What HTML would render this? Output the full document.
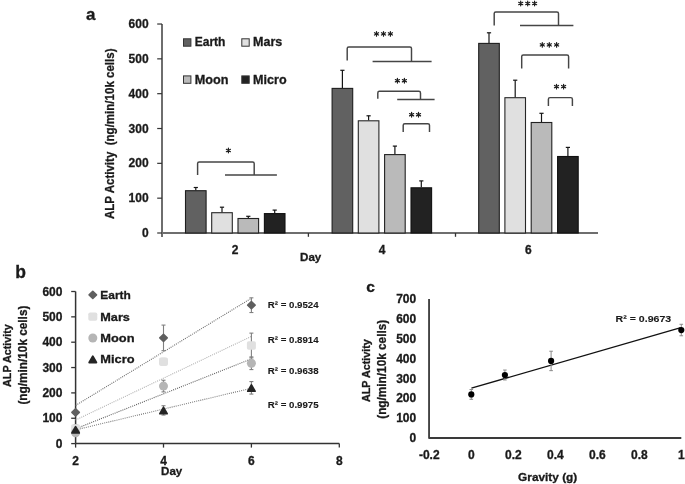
<!DOCTYPE html>
<html><head><meta charset="utf-8"><style>
html,body{margin:0;padding:0;background:#fff;overflow:hidden;}
svg{display:block;filter:grayscale(1);font-family:"Liberation Sans", sans-serif;}
</style></head><body>
<svg width="685" height="484" viewBox="0 0 685 484">
<rect width="685" height="484" fill="#fff"/>
<text x="86.10" y="19.60" font-size="17.0" font-weight="bold" fill="#1a1a1a" text-anchor="start" stroke="#1a1a1a" stroke-width="0.3">a</text>
<line x1="162.00" y1="24.00" x2="162.00" y2="237.00" stroke="#6e6e6e" stroke-width="2"/>
<line x1="157.20" y1="233.00" x2="162.00" y2="233.00" stroke="#333333" stroke-width="1.2"/>
<text x="148.60" y="237.10" font-size="12.0" font-weight="bold" fill="#1a1a1a" text-anchor="end" stroke="#1a1a1a" stroke-width="0.3" textLength="6.67" lengthAdjust="spacingAndGlyphs">0</text>
<line x1="157.20" y1="198.17" x2="162.00" y2="198.17" stroke="#333333" stroke-width="1.2"/>
<text x="148.60" y="202.27" font-size="12.0" font-weight="bold" fill="#1a1a1a" text-anchor="end" stroke="#1a1a1a" stroke-width="0.3" textLength="20.01" lengthAdjust="spacingAndGlyphs">100</text>
<line x1="157.20" y1="163.34" x2="162.00" y2="163.34" stroke="#333333" stroke-width="1.2"/>
<text x="148.60" y="167.44" font-size="12.0" font-weight="bold" fill="#1a1a1a" text-anchor="end" stroke="#1a1a1a" stroke-width="0.3" textLength="20.01" lengthAdjust="spacingAndGlyphs">200</text>
<line x1="157.20" y1="128.51" x2="162.00" y2="128.51" stroke="#333333" stroke-width="1.2"/>
<text x="148.60" y="132.61" font-size="12.0" font-weight="bold" fill="#1a1a1a" text-anchor="end" stroke="#1a1a1a" stroke-width="0.3" textLength="20.01" lengthAdjust="spacingAndGlyphs">300</text>
<line x1="157.20" y1="93.68" x2="162.00" y2="93.68" stroke="#333333" stroke-width="1.2"/>
<text x="148.60" y="97.78" font-size="12.0" font-weight="bold" fill="#1a1a1a" text-anchor="end" stroke="#1a1a1a" stroke-width="0.3" textLength="20.01" lengthAdjust="spacingAndGlyphs">400</text>
<line x1="157.20" y1="58.85" x2="162.00" y2="58.85" stroke="#333333" stroke-width="1.2"/>
<text x="148.60" y="62.95" font-size="12.0" font-weight="bold" fill="#1a1a1a" text-anchor="end" stroke="#1a1a1a" stroke-width="0.3" textLength="20.01" lengthAdjust="spacingAndGlyphs">500</text>
<line x1="157.20" y1="24.02" x2="162.00" y2="24.02" stroke="#333333" stroke-width="1.2"/>
<text x="148.60" y="28.12" font-size="12.0" font-weight="bold" fill="#1a1a1a" text-anchor="end" stroke="#1a1a1a" stroke-width="0.3" textLength="20.01" lengthAdjust="spacingAndGlyphs">600</text>
<line x1="162.00" y1="233.00" x2="598.00" y2="233.00" stroke="#6e6e6e" stroke-width="2"/>
<line x1="308.40" y1="233.00" x2="308.40" y2="236.80" stroke="#333333" stroke-width="1.3"/>
<line x1="455.50" y1="233.00" x2="455.50" y2="236.80" stroke="#333333" stroke-width="1.3"/>
<text x="235.20" y="254.20" font-size="12" font-weight="bold" fill="#1a1a1a" text-anchor="middle" stroke="#1a1a1a" stroke-width="0.3">2</text>
<text x="382.00" y="254.20" font-size="12" font-weight="bold" fill="#1a1a1a" text-anchor="middle" stroke="#1a1a1a" stroke-width="0.3">4</text>
<text x="528.30" y="254.20" font-size="12" font-weight="bold" fill="#1a1a1a" text-anchor="middle" stroke="#1a1a1a" stroke-width="0.3">6</text>
<text x="300.00" y="261.30" font-size="11.5" font-weight="bold" fill="#1a1a1a" text-anchor="start" stroke="#1a1a1a" stroke-width="0.3" textLength="21.30" lengthAdjust="spacingAndGlyphs">Day</text>
<text x="114.00" y="219.00" font-size="13.0" font-weight="bold" fill="#1a1a1a" text-anchor="start" stroke="#1a1a1a" stroke-width="0.3" textLength="170.50" lengthAdjust="spacingAndGlyphs" transform="rotate(-90 114.00 219.00)">ALP Activity&#160;&#160;(ng/min/10k cells)</text>
<rect x="185.50" y="190.70" width="20.60" height="42.30" fill="#616161" stroke="#1e1e1e" stroke-width="1.1"/>
<line x1="195.80" y1="190.20" x2="195.80" y2="187.50" stroke="#151515" stroke-width="1.2"/>
<line x1="193.70" y1="187.50" x2="197.90" y2="187.50" stroke="#151515" stroke-width="1.2"/>
<rect x="211.70" y="212.70" width="20.60" height="20.30" fill="#e0e0e0" stroke="#262626" stroke-width="1.1"/>
<line x1="222.00" y1="212.20" x2="222.00" y2="207.20" stroke="#151515" stroke-width="1.2"/>
<line x1="219.90" y1="207.20" x2="224.10" y2="207.20" stroke="#151515" stroke-width="1.2"/>
<rect x="238.00" y="218.50" width="20.60" height="14.50" fill="#bababa" stroke="#222222" stroke-width="1.1"/>
<line x1="248.30" y1="218.00" x2="248.30" y2="216.30" stroke="#151515" stroke-width="1.2"/>
<line x1="246.20" y1="216.30" x2="250.40" y2="216.30" stroke="#151515" stroke-width="1.2"/>
<rect x="264.40" y="213.60" width="20.60" height="19.40" fill="#222222" stroke="#111111" stroke-width="1.1"/>
<line x1="274.70" y1="213.10" x2="274.70" y2="210.10" stroke="#151515" stroke-width="1.2"/>
<line x1="272.60" y1="210.10" x2="276.80" y2="210.10" stroke="#151515" stroke-width="1.2"/>
<rect x="332.10" y="88.40" width="20.60" height="144.60" fill="#616161" stroke="#1e1e1e" stroke-width="1.1"/>
<line x1="342.40" y1="87.90" x2="342.40" y2="70.30" stroke="#151515" stroke-width="1.2"/>
<line x1="340.30" y1="70.30" x2="344.50" y2="70.30" stroke="#151515" stroke-width="1.2"/>
<rect x="358.30" y="120.80" width="20.60" height="112.20" fill="#e0e0e0" stroke="#262626" stroke-width="1.1"/>
<line x1="368.60" y1="120.30" x2="368.60" y2="115.80" stroke="#151515" stroke-width="1.2"/>
<line x1="366.50" y1="115.80" x2="370.70" y2="115.80" stroke="#151515" stroke-width="1.2"/>
<rect x="384.60" y="154.60" width="20.60" height="78.40" fill="#bababa" stroke="#222222" stroke-width="1.1"/>
<line x1="394.90" y1="154.10" x2="394.90" y2="146.10" stroke="#151515" stroke-width="1.2"/>
<line x1="392.80" y1="146.10" x2="397.00" y2="146.10" stroke="#151515" stroke-width="1.2"/>
<rect x="411.00" y="187.80" width="20.60" height="45.20" fill="#222222" stroke="#111111" stroke-width="1.1"/>
<line x1="421.30" y1="187.30" x2="421.30" y2="180.90" stroke="#151515" stroke-width="1.2"/>
<line x1="419.20" y1="180.90" x2="423.40" y2="180.90" stroke="#151515" stroke-width="1.2"/>
<rect x="478.70" y="43.40" width="20.60" height="189.60" fill="#616161" stroke="#1e1e1e" stroke-width="1.1"/>
<line x1="489.00" y1="42.90" x2="489.00" y2="32.80" stroke="#151515" stroke-width="1.2"/>
<line x1="486.90" y1="32.80" x2="491.10" y2="32.80" stroke="#151515" stroke-width="1.2"/>
<rect x="504.90" y="97.70" width="20.60" height="135.30" fill="#e0e0e0" stroke="#262626" stroke-width="1.1"/>
<line x1="515.20" y1="97.20" x2="515.20" y2="80.20" stroke="#151515" stroke-width="1.2"/>
<line x1="513.10" y1="80.20" x2="517.30" y2="80.20" stroke="#151515" stroke-width="1.2"/>
<rect x="531.20" y="122.50" width="20.60" height="110.50" fill="#bababa" stroke="#222222" stroke-width="1.1"/>
<line x1="541.50" y1="122.00" x2="541.50" y2="113.30" stroke="#151515" stroke-width="1.2"/>
<line x1="539.40" y1="113.30" x2="543.60" y2="113.30" stroke="#151515" stroke-width="1.2"/>
<rect x="557.60" y="156.50" width="20.60" height="76.50" fill="#222222" stroke="#111111" stroke-width="1.1"/>
<line x1="567.90" y1="156.00" x2="567.90" y2="147.40" stroke="#151515" stroke-width="1.2"/>
<line x1="565.80" y1="147.40" x2="570.00" y2="147.40" stroke="#151515" stroke-width="1.2"/>
<rect x="183.50" y="38.80" width="7.40" height="7.40" fill="#616161" stroke="#333" stroke-width="1"/>
<text x="194.70" y="46.40" font-size="12.2" font-weight="bold" fill="#1a1a1a" text-anchor="start" stroke="#1a1a1a" stroke-width="0.3" textLength="30.70" lengthAdjust="spacingAndGlyphs">Earth</text>
<rect x="241.80" y="38.80" width="7.40" height="7.40" fill="#e0e0e0" stroke="#333" stroke-width="1"/>
<text x="253.10" y="46.40" font-size="12.2" font-weight="bold" fill="#1a1a1a" text-anchor="start" stroke="#1a1a1a" stroke-width="0.3" textLength="29.20" lengthAdjust="spacingAndGlyphs">Mars</text>
<rect x="183.50" y="75.90" width="7.40" height="7.40" fill="#bababa" stroke="#333" stroke-width="1"/>
<text x="194.70" y="83.50" font-size="12.2" font-weight="bold" fill="#1a1a1a" text-anchor="start" stroke="#1a1a1a" stroke-width="0.3" textLength="33.70" lengthAdjust="spacingAndGlyphs">Moon</text>
<rect x="241.80" y="75.90" width="7.40" height="7.40" fill="#222222" stroke="#333" stroke-width="1"/>
<text x="253.10" y="83.50" font-size="12.2" font-weight="bold" fill="#1a1a1a" text-anchor="start" stroke="#1a1a1a" stroke-width="0.3" textLength="33.50" lengthAdjust="spacingAndGlyphs">Micro</text>
<path d="M197.60,175.00 L197.60,163.50 Q197.60,161.90 199.20,161.90 L252.60,161.90 Q254.20,161.90 254.20,163.50 L254.20,175.00" fill="none" stroke="#454545" stroke-width="1.45"/>
<line x1="225.00" y1="175.00" x2="276.90" y2="175.00" stroke="#454545" stroke-width="1.45"/>
<path d="M228.40,148.15L228.40,152.85M226.36,149.32L230.44,151.68M226.36,151.68L230.44,149.32" stroke="#1e1e1e" stroke-width="1.2" stroke-linecap="round" fill="none"/>
<path d="M347.20,60.60 L347.20,48.50 Q347.20,46.90 348.80,46.90 L409.90,46.90 Q411.50,46.90 411.50,48.50 L411.50,61.50" fill="none" stroke="#454545" stroke-width="1.45"/>
<line x1="372.60" y1="61.50" x2="431.60" y2="61.50" stroke="#454545" stroke-width="1.45"/>
<path d="M376.50,31.55L376.50,36.25M374.46,32.73L378.54,35.07M374.46,35.07L378.54,32.73" stroke="#1e1e1e" stroke-width="1.2" stroke-linecap="round" fill="none"/>
<path d="M383.50,31.55L383.50,36.25M381.46,32.73L385.54,35.07M381.46,35.07L385.54,32.73" stroke="#1e1e1e" stroke-width="1.2" stroke-linecap="round" fill="none"/>
<path d="M390.40,31.55L390.40,36.25M388.36,32.73L392.44,35.07M388.36,35.07L392.44,32.73" stroke="#1e1e1e" stroke-width="1.2" stroke-linecap="round" fill="none"/>
<path d="M377.80,98.80 L377.80,92.90 Q377.80,91.30 379.40,91.30 L418.90,91.30 Q420.50,91.30 420.50,92.90 L420.50,99.50" fill="none" stroke="#454545" stroke-width="1.45"/>
<line x1="397.20" y1="99.50" x2="434.60" y2="99.50" stroke="#454545" stroke-width="1.45"/>
<path d="M397.40,78.35L397.40,83.05M395.36,79.53L399.44,81.88M395.36,81.88L399.44,79.53" stroke="#1e1e1e" stroke-width="1.2" stroke-linecap="round" fill="none"/>
<path d="M404.40,78.35L404.40,83.05M402.36,79.53L406.44,81.88M402.36,81.88L406.44,79.53" stroke="#1e1e1e" stroke-width="1.2" stroke-linecap="round" fill="none"/>
<path d="M403.20,131.90 L403.20,125.30 Q403.20,123.70 404.80,123.70 L427.90,123.70 Q429.50,123.70 429.50,125.30 L429.50,131.90" fill="none" stroke="#454545" stroke-width="1.45"/>
<path d="M411.60,112.35L411.60,117.05M409.56,113.53L413.64,115.88M409.56,115.88L413.64,113.53" stroke="#1e1e1e" stroke-width="1.2" stroke-linecap="round" fill="none"/>
<path d="M418.50,112.35L418.50,117.05M416.46,113.53L420.54,115.88M416.46,115.88L420.54,113.53" stroke="#1e1e1e" stroke-width="1.2" stroke-linecap="round" fill="none"/>
<path d="M494.20,25.40 L494.20,13.50 Q494.20,11.90 495.80,11.90 L556.90,11.90 Q558.50,11.90 558.50,13.50 L558.50,25.50" fill="none" stroke="#454545" stroke-width="1.45"/>
<line x1="520.00" y1="25.50" x2="573.40" y2="25.50" stroke="#454545" stroke-width="1.45"/>
<path d="M520.70,1.15L520.70,5.85M518.66,2.33L522.74,4.67M518.66,4.67L522.74,2.33" stroke="#1e1e1e" stroke-width="1.2" stroke-linecap="round" fill="none"/>
<path d="M527.70,1.15L527.70,5.85M525.66,2.33L529.74,4.67M525.66,4.67L529.74,2.33" stroke="#1e1e1e" stroke-width="1.2" stroke-linecap="round" fill="none"/>
<path d="M534.60,1.15L534.60,5.85M532.56,2.33L536.64,4.67M532.56,4.67L536.64,2.33" stroke="#1e1e1e" stroke-width="1.2" stroke-linecap="round" fill="none"/>
<path d="M521.70,68.50 L521.70,56.50 Q521.70,54.90 523.30,54.90 L567.00,54.90 Q568.60,54.90 568.60,56.50 L568.60,68.50" fill="none" stroke="#454545" stroke-width="1.45"/>
<path d="M542.30,42.55L542.30,47.25M540.26,43.73L544.34,46.07M540.26,46.07L544.34,43.73" stroke="#1e1e1e" stroke-width="1.2" stroke-linecap="round" fill="none"/>
<path d="M549.30,42.55L549.30,47.25M547.26,43.73L551.34,46.07M547.26,46.07L551.34,43.73" stroke="#1e1e1e" stroke-width="1.2" stroke-linecap="round" fill="none"/>
<path d="M556.60,42.55L556.60,47.25M554.56,43.73L558.64,46.07M554.56,46.07L558.64,43.73" stroke="#1e1e1e" stroke-width="1.2" stroke-linecap="round" fill="none"/>
<path d="M548.40,106.10 L548.40,99.20 Q548.40,97.60 550.00,97.60 L570.80,97.60 Q572.40,97.60 572.40,99.20 L572.40,106.10" fill="none" stroke="#454545" stroke-width="1.45"/>
<path d="M556.50,84.25L556.50,88.95M554.46,85.42L558.54,87.77M554.46,87.77L558.54,85.42" stroke="#1e1e1e" stroke-width="1.2" stroke-linecap="round" fill="none"/>
<path d="M563.60,84.25L563.60,88.95M561.56,85.42L565.64,87.77M561.56,87.77L565.64,85.42" stroke="#1e1e1e" stroke-width="1.2" stroke-linecap="round" fill="none"/>
<text x="15.20" y="278.20" font-size="17.5" font-weight="bold" fill="#1a1a1a" text-anchor="start" stroke="#1a1a1a" stroke-width="0.3">b</text>
<line x1="75.60" y1="291.50" x2="75.60" y2="443.60" stroke="#333333" stroke-width="1.5"/>
<line x1="71.20" y1="443.60" x2="75.60" y2="443.60" stroke="#333333" stroke-width="1.3"/>
<text x="62.40" y="447.60" font-size="12.0" font-weight="bold" fill="#1a1a1a" text-anchor="end" stroke="#1a1a1a" stroke-width="0.3" textLength="6.67" lengthAdjust="spacingAndGlyphs">0</text>
<line x1="71.20" y1="418.25" x2="75.60" y2="418.25" stroke="#333333" stroke-width="1.3"/>
<text x="62.40" y="422.25" font-size="12.0" font-weight="bold" fill="#1a1a1a" text-anchor="end" stroke="#1a1a1a" stroke-width="0.3" textLength="20.01" lengthAdjust="spacingAndGlyphs">100</text>
<line x1="71.20" y1="392.90" x2="75.60" y2="392.90" stroke="#333333" stroke-width="1.3"/>
<text x="62.40" y="396.90" font-size="12.0" font-weight="bold" fill="#1a1a1a" text-anchor="end" stroke="#1a1a1a" stroke-width="0.3" textLength="20.01" lengthAdjust="spacingAndGlyphs">200</text>
<line x1="71.20" y1="367.55" x2="75.60" y2="367.55" stroke="#333333" stroke-width="1.3"/>
<text x="62.40" y="371.55" font-size="12.0" font-weight="bold" fill="#1a1a1a" text-anchor="end" stroke="#1a1a1a" stroke-width="0.3" textLength="20.01" lengthAdjust="spacingAndGlyphs">300</text>
<line x1="71.20" y1="342.20" x2="75.60" y2="342.20" stroke="#333333" stroke-width="1.3"/>
<text x="62.40" y="346.20" font-size="12.0" font-weight="bold" fill="#1a1a1a" text-anchor="end" stroke="#1a1a1a" stroke-width="0.3" textLength="20.01" lengthAdjust="spacingAndGlyphs">400</text>
<line x1="71.20" y1="316.85" x2="75.60" y2="316.85" stroke="#333333" stroke-width="1.3"/>
<text x="62.40" y="320.85" font-size="12.0" font-weight="bold" fill="#1a1a1a" text-anchor="end" stroke="#1a1a1a" stroke-width="0.3" textLength="20.01" lengthAdjust="spacingAndGlyphs">500</text>
<line x1="71.20" y1="291.50" x2="75.60" y2="291.50" stroke="#333333" stroke-width="1.3"/>
<text x="62.40" y="295.50" font-size="12.0" font-weight="bold" fill="#1a1a1a" text-anchor="end" stroke="#1a1a1a" stroke-width="0.3" textLength="20.01" lengthAdjust="spacingAndGlyphs">600</text>
<line x1="75.60" y1="443.60" x2="339.30" y2="443.60" stroke="#333333" stroke-width="1.5"/>
<line x1="75.60" y1="443.60" x2="75.60" y2="447.60" stroke="#333333" stroke-width="1.3"/>
<text x="75.60" y="464.70" font-size="12" font-weight="bold" fill="#1a1a1a" text-anchor="middle" stroke="#1a1a1a" stroke-width="0.3">2</text>
<line x1="163.50" y1="443.60" x2="163.50" y2="447.60" stroke="#333333" stroke-width="1.3"/>
<text x="163.50" y="464.70" font-size="12" font-weight="bold" fill="#1a1a1a" text-anchor="middle" stroke="#1a1a1a" stroke-width="0.3">4</text>
<line x1="251.40" y1="443.60" x2="251.40" y2="447.60" stroke="#333333" stroke-width="1.3"/>
<text x="251.40" y="464.70" font-size="12" font-weight="bold" fill="#1a1a1a" text-anchor="middle" stroke="#1a1a1a" stroke-width="0.3">6</text>
<line x1="339.30" y1="443.60" x2="339.30" y2="447.60" stroke="#333333" stroke-width="1.3"/>
<text x="339.30" y="464.70" font-size="12" font-weight="bold" fill="#1a1a1a" text-anchor="middle" stroke="#1a1a1a" stroke-width="0.3">8</text>
<text x="161.10" y="474.50" font-size="11.5" font-weight="bold" fill="#1a1a1a" text-anchor="start" stroke="#1a1a1a" stroke-width="0.3" textLength="21.20" lengthAdjust="spacingAndGlyphs">Day</text>
<text x="10.60" y="386.90" font-size="11.2" font-weight="bold" fill="#1a1a1a" text-anchor="start" stroke="#1a1a1a" stroke-width="0.3" textLength="62.60" lengthAdjust="spacingAndGlyphs" transform="rotate(-90 10.60 386.90)">ALP Activity</text>
<text x="26.60" y="404.60" font-size="12.2" font-weight="bold" fill="#1a1a1a" text-anchor="start" stroke="#1a1a1a" stroke-width="0.3" textLength="99.00" lengthAdjust="spacingAndGlyphs" transform="rotate(-90 26.60 404.60)">(ng/min/10k cells)</text>
<line x1="75.60" y1="420.02" x2="251.40" y2="336.37" stroke="#b0b0b0" stroke-width="1.1" stroke-dasharray="1 1.1"/>
<line x1="75.60" y1="428.81" x2="251.40" y2="358.85" stroke="#5e5e5e" stroke-width="1.1" stroke-dasharray="1 1.1"/>
<line x1="75.60" y1="429.83" x2="251.40" y2="388.25" stroke="#7c7c7c" stroke-width="1.1" stroke-dasharray="1 1.1"/>
<line x1="75.60" y1="405.45" x2="251.40" y2="298.22" stroke="#6c6c6c" stroke-width="1.1" stroke-dasharray="1 1.1"/>
<line x1="75.60" y1="410.44" x2="75.60" y2="414.40" stroke="#808080" stroke-width="1.1"/>
<line x1="73.60" y1="410.44" x2="77.60" y2="410.44" stroke="#808080" stroke-width="1.1"/>
<line x1="73.60" y1="414.40" x2="77.60" y2="414.40" stroke="#808080" stroke-width="1.1"/>
<line x1="163.50" y1="325.09" x2="163.50" y2="350.69" stroke="#808080" stroke-width="1.1"/>
<line x1="161.50" y1="325.09" x2="165.50" y2="325.09" stroke="#808080" stroke-width="1.1"/>
<line x1="161.50" y1="350.69" x2="165.50" y2="350.69" stroke="#808080" stroke-width="1.1"/>
<line x1="251.40" y1="297.84" x2="251.40" y2="312.54" stroke="#808080" stroke-width="1.1"/>
<line x1="249.40" y1="297.84" x2="253.40" y2="297.84" stroke="#808080" stroke-width="1.1"/>
<line x1="249.40" y1="312.54" x2="253.40" y2="312.54" stroke="#808080" stroke-width="1.1"/>
<line x1="75.60" y1="424.74" x2="75.60" y2="432.04" stroke="#808080" stroke-width="1.1"/>
<line x1="73.60" y1="424.74" x2="77.60" y2="424.74" stroke="#808080" stroke-width="1.1"/>
<line x1="73.60" y1="432.04" x2="77.60" y2="432.04" stroke="#808080" stroke-width="1.1"/>
<line x1="163.50" y1="358.45" x2="163.50" y2="364.99" stroke="#808080" stroke-width="1.1"/>
<line x1="161.50" y1="358.45" x2="165.50" y2="358.45" stroke="#808080" stroke-width="1.1"/>
<line x1="161.50" y1="364.99" x2="165.50" y2="364.99" stroke="#808080" stroke-width="1.1"/>
<line x1="251.40" y1="333.12" x2="251.40" y2="357.87" stroke="#808080" stroke-width="1.1"/>
<line x1="249.40" y1="333.12" x2="253.40" y2="333.12" stroke="#808080" stroke-width="1.1"/>
<line x1="249.40" y1="357.87" x2="253.40" y2="357.87" stroke="#808080" stroke-width="1.1"/>
<line x1="75.60" y1="431.46" x2="75.60" y2="433.94" stroke="#808080" stroke-width="1.1"/>
<line x1="73.60" y1="431.46" x2="77.60" y2="431.46" stroke="#808080" stroke-width="1.1"/>
<line x1="73.60" y1="433.94" x2="77.60" y2="433.94" stroke="#808080" stroke-width="1.1"/>
<line x1="163.50" y1="380.23" x2="163.50" y2="391.89" stroke="#808080" stroke-width="1.1"/>
<line x1="161.50" y1="380.23" x2="165.50" y2="380.23" stroke="#808080" stroke-width="1.1"/>
<line x1="161.50" y1="391.89" x2="165.50" y2="391.89" stroke="#808080" stroke-width="1.1"/>
<line x1="251.40" y1="356.90" x2="251.40" y2="369.58" stroke="#808080" stroke-width="1.1"/>
<line x1="249.40" y1="356.90" x2="253.40" y2="356.90" stroke="#808080" stroke-width="1.1"/>
<line x1="249.40" y1="369.58" x2="253.40" y2="369.58" stroke="#808080" stroke-width="1.1"/>
<line x1="75.60" y1="427.48" x2="75.60" y2="431.84" stroke="#808080" stroke-width="1.1"/>
<line x1="73.60" y1="427.48" x2="77.60" y2="427.48" stroke="#808080" stroke-width="1.1"/>
<line x1="73.60" y1="431.84" x2="77.60" y2="431.84" stroke="#808080" stroke-width="1.1"/>
<line x1="163.50" y1="405.73" x2="163.50" y2="415.06" stroke="#808080" stroke-width="1.1"/>
<line x1="161.50" y1="405.73" x2="165.50" y2="405.73" stroke="#808080" stroke-width="1.1"/>
<line x1="161.50" y1="415.06" x2="165.50" y2="415.06" stroke="#808080" stroke-width="1.1"/>
<line x1="251.40" y1="381.57" x2="251.40" y2="394.09" stroke="#808080" stroke-width="1.1"/>
<line x1="249.40" y1="381.57" x2="253.40" y2="381.57" stroke="#808080" stroke-width="1.1"/>
<line x1="249.40" y1="394.09" x2="253.40" y2="394.09" stroke="#808080" stroke-width="1.1"/>
<path d="M75.60,408.92 L79.30,412.42 L75.60,415.92 L71.90,412.42 Z" fill="#5f5f5f" stroke="#5f5f5f" stroke-width="1.6" stroke-linejoin="round"/>
<path d="M163.50,334.39 L167.20,337.89 L163.50,341.39 L159.80,337.89 Z" fill="#5f5f5f" stroke="#5f5f5f" stroke-width="1.6" stroke-linejoin="round"/>
<path d="M251.40,301.69 L255.10,305.19 L251.40,308.69 L247.70,305.19 Z" fill="#5f5f5f" stroke="#5f5f5f" stroke-width="1.6" stroke-linejoin="round"/>
<rect x="71.10" y="424.19" width="9" height="8.4" rx="1.8" fill="#e0e0e0"/>
<rect x="159.00" y="357.52" width="9" height="8.4" rx="1.8" fill="#e0e0e0"/>
<rect x="246.90" y="341.30" width="9" height="8.4" rx="1.8" fill="#e0e0e0"/>
<circle cx="75.60" cy="432.70" r="4.5" fill="#b5b5b5"/>
<circle cx="163.50" cy="386.06" r="4.5" fill="#b5b5b5"/>
<circle cx="251.40" cy="363.24" r="4.5" fill="#b5b5b5"/>
<path d="M75.60,426.76 L79.20,432.96 L72.00,432.96 Z" fill="#252525" stroke="#252525" stroke-width="1.8" stroke-linejoin="round"/>
<path d="M163.50,407.49 L167.10,413.69 L159.90,413.69 Z" fill="#252525" stroke="#252525" stroke-width="1.8" stroke-linejoin="round"/>
<path d="M251.40,384.93 L255.00,391.13 L247.80,391.13 Z" fill="#252525" stroke="#252525" stroke-width="1.8" stroke-linejoin="round"/>
<path d="M92.80,291.40 L96.50,294.90 L92.80,298.40 L89.10,294.90 Z" fill="#5f5f5f" stroke="#5f5f5f" stroke-width="1.6" stroke-linejoin="round"/>
<text x="100.30" y="299.00" font-size="11.2" font-weight="bold" fill="#1a1a1a" text-anchor="start" stroke="#1a1a1a" stroke-width="0.3" textLength="30.50" lengthAdjust="spacingAndGlyphs">Earth</text>
<rect x="88.30" y="312.40" width="9" height="8.4" rx="1.8" fill="#e0e0e0"/>
<text x="100.30" y="320.60" font-size="11.2" font-weight="bold" fill="#1a1a1a" text-anchor="start" stroke="#1a1a1a" stroke-width="0.3" textLength="29.60" lengthAdjust="spacingAndGlyphs">Mars</text>
<circle cx="92.80" cy="338.00" r="4.5" fill="#b5b5b5"/>
<text x="100.30" y="342.00" font-size="11.2" font-weight="bold" fill="#1a1a1a" text-anchor="start" stroke="#1a1a1a" stroke-width="0.3" textLength="34.20" lengthAdjust="spacingAndGlyphs">Moon</text>
<path d="M92.80,356.30 L96.40,362.50 L89.20,362.50 Z" fill="#252525" stroke="#252525" stroke-width="1.8" stroke-linejoin="round"/>
<text x="100.30" y="363.20" font-size="11.2" font-weight="bold" fill="#1a1a1a" text-anchor="start" stroke="#1a1a1a" stroke-width="0.3" textLength="34.20" lengthAdjust="spacingAndGlyphs">Micro</text>
<text x="267.80" y="308.20" font-size="9.5" font-weight="bold" fill="#1a1a1a" text-anchor="start" stroke="#1a1a1a" stroke-width="0.1" textLength="50.80" lengthAdjust="spacingAndGlyphs">R&#178; = 0.9524</text>
<text x="267.80" y="343.30" font-size="9.5" font-weight="bold" fill="#1a1a1a" text-anchor="start" stroke="#1a1a1a" stroke-width="0.1" textLength="50.80" lengthAdjust="spacingAndGlyphs">R&#178; = 0.8914</text>
<text x="267.80" y="373.90" font-size="9.5" font-weight="bold" fill="#1a1a1a" text-anchor="start" stroke="#1a1a1a" stroke-width="0.1" textLength="50.80" lengthAdjust="spacingAndGlyphs">R&#178; = 0.9638</text>
<text x="267.80" y="407.80" font-size="9.5" font-weight="bold" fill="#1a1a1a" text-anchor="start" stroke="#1a1a1a" stroke-width="0.1" textLength="50.80" lengthAdjust="spacingAndGlyphs">R&#178; = 0.9975</text>
<text x="366.20" y="292.30" font-size="15.5" font-weight="bold" fill="#1a1a1a" text-anchor="start" stroke="#1a1a1a" stroke-width="0.3">c</text>
<path d="M429.05,298.9 L429.05,438.0 L681.3,438.0" fill="none" stroke="#3a3a3a" stroke-width="1.8" stroke-linejoin="round"/>
<text x="416.20" y="442.00" font-size="12.0" font-weight="bold" fill="#1a1a1a" text-anchor="end" stroke="#1a1a1a" stroke-width="0.3" textLength="6.67" lengthAdjust="spacingAndGlyphs">0</text>
<text x="416.20" y="422.19" font-size="12.0" font-weight="bold" fill="#1a1a1a" text-anchor="end" stroke="#1a1a1a" stroke-width="0.3" textLength="20.01" lengthAdjust="spacingAndGlyphs">100</text>
<text x="416.20" y="402.38" font-size="12.0" font-weight="bold" fill="#1a1a1a" text-anchor="end" stroke="#1a1a1a" stroke-width="0.3" textLength="20.01" lengthAdjust="spacingAndGlyphs">200</text>
<text x="416.20" y="382.57" font-size="12.0" font-weight="bold" fill="#1a1a1a" text-anchor="end" stroke="#1a1a1a" stroke-width="0.3" textLength="20.01" lengthAdjust="spacingAndGlyphs">300</text>
<text x="416.20" y="362.76" font-size="12.0" font-weight="bold" fill="#1a1a1a" text-anchor="end" stroke="#1a1a1a" stroke-width="0.3" textLength="20.01" lengthAdjust="spacingAndGlyphs">400</text>
<text x="416.20" y="342.95" font-size="12.0" font-weight="bold" fill="#1a1a1a" text-anchor="end" stroke="#1a1a1a" stroke-width="0.3" textLength="20.01" lengthAdjust="spacingAndGlyphs">500</text>
<text x="416.20" y="323.14" font-size="12.0" font-weight="bold" fill="#1a1a1a" text-anchor="end" stroke="#1a1a1a" stroke-width="0.3" textLength="20.01" lengthAdjust="spacingAndGlyphs">600</text>
<text x="416.20" y="303.33" font-size="12.0" font-weight="bold" fill="#1a1a1a" text-anchor="end" stroke="#1a1a1a" stroke-width="0.3" textLength="20.01" lengthAdjust="spacingAndGlyphs">700</text>
<text x="429.30" y="458.80" font-size="12" font-weight="bold" fill="#1a1a1a" text-anchor="middle" stroke="#1a1a1a" stroke-width="0.3">-0.2</text>
<text x="471.30" y="458.80" font-size="12" font-weight="bold" fill="#1a1a1a" text-anchor="middle" stroke="#1a1a1a" stroke-width="0.3">0</text>
<text x="513.30" y="458.80" font-size="12" font-weight="bold" fill="#1a1a1a" text-anchor="middle" stroke="#1a1a1a" stroke-width="0.3">0.2</text>
<text x="555.30" y="458.80" font-size="12" font-weight="bold" fill="#1a1a1a" text-anchor="middle" stroke="#1a1a1a" stroke-width="0.3">0.4</text>
<text x="597.30" y="458.80" font-size="12" font-weight="bold" fill="#1a1a1a" text-anchor="middle" stroke="#1a1a1a" stroke-width="0.3">0.6</text>
<text x="639.30" y="458.80" font-size="12" font-weight="bold" fill="#1a1a1a" text-anchor="middle" stroke="#1a1a1a" stroke-width="0.3">0.8</text>
<text x="681.30" y="458.80" font-size="12" font-weight="bold" fill="#1a1a1a" text-anchor="middle" stroke="#1a1a1a" stroke-width="0.3">1</text>
<text x="518.10" y="480.90" font-size="11.5" font-weight="bold" fill="#1a1a1a" text-anchor="start" stroke="#1a1a1a" stroke-width="0.3" textLength="59.20" lengthAdjust="spacingAndGlyphs">Gravity (g)</text>
<text x="369.90" y="402.00" font-size="11.2" font-weight="bold" fill="#1a1a1a" text-anchor="start" stroke="#1a1a1a" stroke-width="0.3" textLength="62.80" lengthAdjust="spacingAndGlyphs" transform="rotate(-90 369.90 402.00)">ALP Activity</text>
<text x="386.50" y="418.80" font-size="12.2" font-weight="bold" fill="#1a1a1a" text-anchor="start" stroke="#1a1a1a" stroke-width="0.3" textLength="99.00" lengthAdjust="spacingAndGlyphs" transform="rotate(-90 386.50 418.80)">(ng/min/10k cells)</text>
<line x1="471.40" y1="388.20" x2="680.80" y2="327.70" stroke="#111" stroke-width="1.3"/>
<line x1="471.30" y1="389.53" x2="471.30" y2="399.31" stroke="#8a8a8a" stroke-width="1.0"/>
<line x1="469.50" y1="389.53" x2="473.10" y2="389.53" stroke="#8a8a8a" stroke-width="1.0"/>
<line x1="469.50" y1="399.31" x2="473.10" y2="399.31" stroke="#8a8a8a" stroke-width="1.0"/>
<line x1="504.90" y1="370.05" x2="504.90" y2="379.96" stroke="#8a8a8a" stroke-width="1.0"/>
<line x1="503.10" y1="370.05" x2="506.70" y2="370.05" stroke="#8a8a8a" stroke-width="1.0"/>
<line x1="503.10" y1="379.96" x2="506.70" y2="379.96" stroke="#8a8a8a" stroke-width="1.0"/>
<line x1="551.10" y1="351.23" x2="551.10" y2="370.65" stroke="#8a8a8a" stroke-width="1.0"/>
<line x1="549.30" y1="351.23" x2="552.90" y2="351.23" stroke="#8a8a8a" stroke-width="1.0"/>
<line x1="549.30" y1="370.65" x2="552.90" y2="370.65" stroke="#8a8a8a" stroke-width="1.0"/>
<line x1="681.30" y1="324.29" x2="681.30" y2="335.78" stroke="#8a8a8a" stroke-width="1.0"/>
<line x1="679.50" y1="324.29" x2="683.10" y2="324.29" stroke="#8a8a8a" stroke-width="1.0"/>
<line x1="679.50" y1="335.78" x2="683.10" y2="335.78" stroke="#8a8a8a" stroke-width="1.0"/>
<circle cx="471.30" cy="394.42" r="3.1" fill="#000"/>
<circle cx="504.90" cy="375.01" r="3.1" fill="#000"/>
<circle cx="551.10" cy="360.94" r="3.1" fill="#000"/>
<circle cx="681.30" cy="330.04" r="3.1" fill="#000"/>
<text x="615.60" y="321.70" font-size="9.5" font-weight="bold" fill="#1a1a1a" text-anchor="start" stroke="#1a1a1a" stroke-width="0.1" textLength="55.60" lengthAdjust="spacingAndGlyphs">R&#178; = 0.9673</text>
</svg>
</body></html>
